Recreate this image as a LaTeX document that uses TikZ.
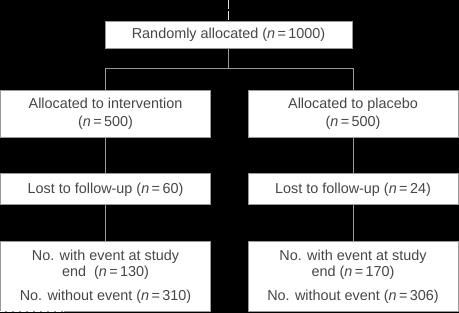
\documentclass[tikz,border=0pt]{standalone}
\usepackage{fontspec}
\setmainfont{Liberation Sans}
\usetikzlibrary{positioning}

\begin{document}
\begin{tikzpicture}[
    x=1pt, y=1pt, node distance=36pt,
    box/.style={rectangle, draw=black!40, fill=white, line width=0.9pt,
                minimum width=210pt, inner sep=0pt, align=center, text=black!72,
                font=\fontsize{14.4}{17}\selectfont},
    topbox/.style={box, minimum width=247pt, minimum height=27pt},
    armbox/.style={box, minimum height=47pt},
    lostbox/.style={box, minimum height=31pt},
    endbox/.style={box, minimum height=70pt},
    link/.style={draw=black!40, line width=0.9pt},
    feed/.style={draw=black!12, line width=0.9pt, dash pattern=on 9pt off 2pt}
  ]
    % background and page size
    \fill[black] (0,0) rectangle (459,-313);
    \useasboundingbox (0,0) rectangle (459,-313);

    %--- Boxes ---
    \node[topbox]  (rand)    at (228.5,-34.5) {Randomly allocated (\textit{n}\,=\,1000)};
    \node[armbox]  (interv)  at (105.5,-113.5) {Allocated to intervention\\[1pt] (\textit{n}\,=\,500)};
    \node[armbox]  (placebo) at (353,-113.5)   {Allocated to placebo\\[1pt] (\textit{n}\,=\,500)};
    \node[lostbox, below=of interv]  (lostI) {Lost to follow-up (\textit{n}\,=\,60)};
    \node[lostbox, below=of placebo] (lostP) {Lost to follow-up (\textit{n}\,=\,24)};
    \node[endbox,  below=of lostI]   (endI)
      {No. with event at study\\[-1pt] end\ \ (\textit{n}\,=\,130)\\[7pt] No. without event (\textit{n}\,=\,310)};
    \node[endbox,  below=of lostP]   (endP)
      {No. with event at study\\[-1pt] end (\textit{n}\,=\,170)\\[7pt] No. without event (\textit{n}\,=\,306)};

    %--- Connectors ---
    \coordinate (entry) at (228.5,0);
    \coordinate (split) at (228.5,-68);
    \draw[feed] (entry) -- (rand.north);
    \draw[link] (rand.south) -- (split);
    \draw[link] (split) -| (interv.north);
    \draw[link] (split) -| (placebo.north);
    \draw[link] (interv)  -- (lostI);
    \draw[link] (placebo) -- (lostP);
    \draw[link] (lostI) -- (endI);
    \draw[link] (lostP) -- (endP);

    % small mark under the bottom left box
    \coordinate (markA) at (0,-311.8);
    \coordinate (markB) at (64,-311.8);
    \draw[white, line width=1.4pt, dash pattern=on 5pt off 2pt] (markA) -- (markB);
\end{tikzpicture}
\end{document}
